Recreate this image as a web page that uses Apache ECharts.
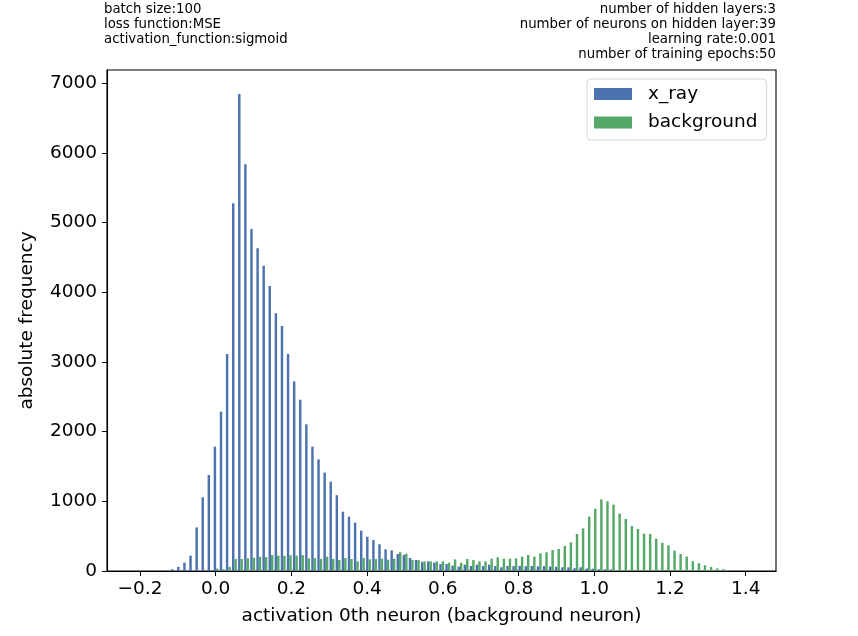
<!DOCTYPE html>
<html>
<head>
<meta charset="utf-8">
<script src="https://cdn.jsdelivr.net/npm/echarts@6/dist/echarts.min.js"></script>
<style>
html,body{margin:0;padding:0;background:#fff;overflow:hidden;}
#chart{width:858px;height:636px;}
</style>
</head>
<body>
<div id="chart"></div>
<script>
// Histogram bins (100 bins)
const binStart = -0.2;
const binWidth = 0.0161;
const xrayCounts = [
  0,0,0,0,0,25,60,120,220,625,
  1057,1377,1784,2286,3113,5275,6844,5835,4907,4630,
  4380,4089,3697,3515,3113,2720,2458,2104,1784,1602,
  1411,1281,1088,851,779,693,578,492,445,383,
  311,297,244,232,187,158,131,139,120,100,
  100,77,62,91,72,91,72,91,72,53,
  72,70,74,68,72,66,70,64,60,53,
  53,40,53,35,33,25,24,22,0,0,
  0,0,0,0,0,0,0,0,0,0,
  0,0,0,0,0,0,0,0,0,0
];
const backgroundCounts = [
  0,0,0,0,0,0,0,0,0,0,
  0,15,35,28,60,172,172,180,191,205,
  198,228,220,218,228,222,228,180,185,172,
  206,172,158,185,172,138,185,167,170,175,
  162,177,270,248,158,156,137,137,137,139,
  120,167,120,172,158,139,139,177,196,177,
  177,182,206,230,206,254,268,301,316,359,
  411,531,612,780,894,1028,1000,952,823,746,
  646,603,536,531,464,407,368,292,244,206,
  140,112,82,57,36,26,0,0,0,0
];
const xTickValues = [-0.2, 0.0, 0.2, 0.4, 0.6, 0.8, 1.0, 1.2, 1.4];
const yTickValues = [0, 1000, 2000, 3000, 4000, 5000, 6000, 7000];
const leftNotes = ['batch size:100', 'loss function:MSE', 'activation_function:sigmoid'];
const rightNotes = ['number of hidden layers:3', 'number of neurons on hidden layer:39', 'learning rate:0.001', 'number of training epochs:50'];

function seriesData(counts, frac) {
  const out = [];
  counts.forEach((c, k) => {
    if (c > 0) out.push([binStart + (k + frac) * binWidth, c]);
  });
  return out;
}

const FONT = 'DejaVu Sans';
const FS = 18.5;
const chart = echarts.init(document.getElementById('chart'), null, {renderer: 'canvas'});
const option = {
  backgroundColor: '#fff',
  animation: false,
  textStyle: {fontFamily: FONT},
  grid: {left: 107, right: 82, top: 70, bottom: 65, show: true, borderColor: '#000', borderWidth: 1.1, backgroundColor: 'transparent'},
  legend: {
    orient: 'vertical', left: 587, top: 79,
    itemWidth: 38, itemHeight: 12, itemGap: 8.5,
    icon: 'rect',
    padding: [5, 9, 7.5, 7],
    backgroundColor: '#fff', borderColor: '#d5d5d5', borderWidth: 1, borderRadius: 4,
    textStyle: {fontFamily: FONT, fontSize: FS, color: '#000', lineHeight: 20, padding: [0, 0, 0, 11]},
    data: ['x_ray', 'background']
  },
  xAxis: {
    type: 'value', min: -0.287, max: 1.480,
    splitLine: {show: false},
    axisLine: {show: true, onZero: false, lineStyle: {color: '#000', width: 1.1}},
    axisTick: {show: true, length: 5, inside: false, customValues: xTickValues, lineStyle: {color: '#000', width: 1}},
    axisLabel: {customValues: xTickValues, margin: 9, fontFamily: FONT, fontSize: FS, color: '#000',
      formatter: v => (v < -1e-9 ? '\u2212' : '') + Math.abs(v).toFixed(1)},
    name: 'activation 0th neuron (background neuron)', nameLocation: 'middle', nameGap: 36,
    nameTextStyle: {fontFamily: FONT, fontSize: FS, color: '#000'}
  },
  yAxis: {
    type: 'value', min: 0, max: 7188,
    splitLine: {show: false},
    axisLine: {show: true, onZero: false, lineStyle: {color: '#000', width: 1.1}},
    axisTick: {show: true, length: 5, inside: false, customValues: yTickValues, lineStyle: {color: '#000', width: 1}},
    axisLabel: {customValues: yTickValues, margin: 10, fontFamily: FONT, fontSize: FS, color: '#000',
      formatter: v => String(v)},
    name: 'absolute frequency', nameLocation: 'middle', nameGap: 70, nameRotate: 90,
    nameTextStyle: {fontFamily: FONT, fontSize: FS, color: '#000'}
  },
  graphic: [
    {type: 'text', x: 104, y: 2, style: {text: leftNotes.join('\n'), font: '13.3px "DejaVu Sans"', fill: '#000', lineHeight: 15, align: 'left', verticalAlign: 'top'}},
    {type: 'text', x: 776, y: 2, style: {text: rightNotes.join('\n'), font: '13.3px "DejaVu Sans"', fill: '#000', lineHeight: 15, align: 'right', textAlign: 'right', verticalAlign: 'top'}}
  ],
  series: [
    {name: 'x_ray', type: 'bar', data: seriesData(xrayCounts, 0.3), barWidth: 2.44, barGap: '-100%', itemStyle: {color: '#4c72b0'}, emphasis: {disabled: true}},
    {name: 'background', type: 'bar', data: seriesData(backgroundCounts, 0.7), barWidth: 2.44, barGap: '-100%', itemStyle: {color: '#55a868'}, emphasis: {disabled: true}}
  ]
};
chart.setOption(option);
</script>
</body>
</html>
